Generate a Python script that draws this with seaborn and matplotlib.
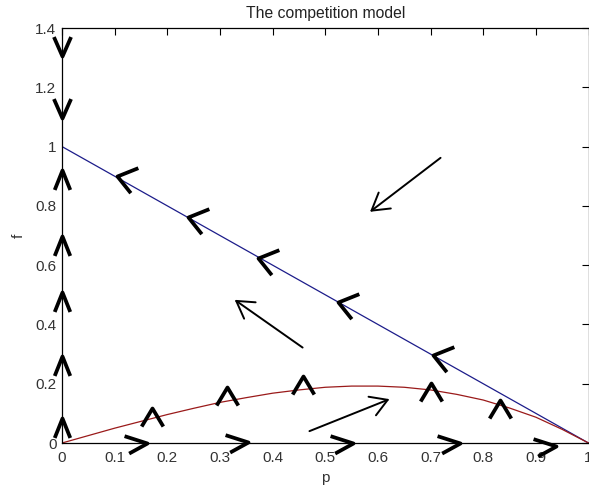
import numpy as np
import pandas as pd
import matplotlib
matplotlib.use("Agg")
import matplotlib.pyplot as plt
from matplotlib.path import Path
import seaborn as sns

# ---- data ----
p_red = [0, 0.05, 0.1, 0.15, 0.2, 0.25, 0.3, 0.35, 0.4, 0.45, 0.5,
         0.55, 0.6, 0.65, 0.7, 0.75, 0.8, 0.85, 0.9, 0.95, 1.0]
f_red = [0, 0.025, 0.05, 0.073, 0.096, 0.117, 0.137, 0.153, 0.168, 0.179, 0.188,
         0.192, 0.192, 0.188, 0.179, 0.164, 0.145, 0.118, 0.087, 0.046, 0]
p_blue = [0, 1]
f_blue = [1, 0]

# chevron (direction marker) tip positions
axis_up_p = [0, 0, 0, 0, 0]
axis_up_f = [0.922, 0.697, 0.511, 0.292, 0.084]
curve_up_p = [0.170, 0.3125, 0.458, 0.7015, 0.831]
curve_up_f = [0.118, 0.189, 0.225, 0.204, 0.144]
down_p = [0, 0]
down_f = [1.304, 1.096]
left_p = [0.104, 0.240, 0.3725, 0.524, 0.705]
left_f = [0.900, 0.762, 0.625, 0.477, 0.298]
right_p = [0.161, 0.354, 0.553, 0.755, 0.939]
right_f = [0.0, 0.003, 0.0, 0.0, -0.01]

# long arrows
arrow_start_p = [0.719, 0.457, 0.470]
arrow_start_f = [0.962, 0.322, 0.040]
arrow_end_p = [0.585, 0.328, 0.622]
arrow_end_f = [0.780, 0.483, 0.148]

xticks = [0, 0.1, 0.2, 0.3, 0.4, 0.5, 0.6, 0.7, 0.8, 0.9, 1]
yticks = [0, 0.2, 0.4, 0.6, 0.8, 1, 1.2, 1.4]

sns.set_theme(style="white")
plt.rcParams['font.family'] = ['Liberation Sans', 'DejaVu Sans']

fig = plt.figure(figsize=(5.89, 4.98), dpi=100)
ax = fig.add_axes([62 / 589, 55 / 498, 526.5 / 589, 415 / 498])

df_red = pd.DataFrame({"p": p_red, "f": f_red})
df_blue = pd.DataFrame({"p": p_blue, "f": f_blue})
sns.lineplot(data=df_blue, x="p", y="f", ax=ax, color="#1c1c8a", lw=0.9, sort=False)
sns.lineplot(data=df_red, x="p", y="f", ax=ax, color="#9a1a1a", lw=0.9, sort=False)


def chev(verts):
    return Path(verts, [Path.MOVETO, Path.LINETO, Path.LINETO])

# tip at origin; marker scaled so max |coord| = 0.5 * markersize
m_up = chev([(-0.2, -0.5), (0, 0), (0.2, -0.5)])
m_up_c = chev([(-0.3, -0.5), (0, 0), (0.3, -0.5)])
m_down = chev([(-0.22, 0.5), (0, 0), (0.22, 0.5)])
m_left = chev([(0.5, 0.2), (0, 0), (0.32, -0.4)])
m_right = chev([(-0.5, 0.16), (0, 0), (-0.4, -0.22)])

kw = dict(linestyle='none', markerfacecolor='none', markeredgecolor='black',
          markeredgewidth=2.7, clip_on=False, zorder=5)
ax.plot(axis_up_p, axis_up_f, marker=m_up, markersize=28, **kw)
ax.plot(curve_up_p, curve_up_f, marker=m_up_c, markersize=26, **kw)
ax.plot(down_p, down_f, marker=m_down, markersize=28, **kw)
ax.plot(left_p, left_f, marker=m_left, markersize=30, **kw)
ax.plot(right_p, right_f, marker=m_right, markersize=33, **kw)

for sp, sf, ep, ef in zip(arrow_start_p, arrow_start_f, arrow_end_p, arrow_end_f):
    ax.annotate('', xy=(ep, ef), xytext=(sp, sf),
                arrowprops=dict(arrowstyle='->,head_length=1.0,head_width=0.6',
                                mutation_scale=12, lw=1.4, color='black',
                                shrinkA=0, shrinkB=0))

ax.set_xlim(0, 1)
ax.set_ylim(0, 1.4)
ax.set_xticks(xticks)
ax.set_yticks(yticks)
ax.set_xticklabels(['%g' % v for v in xticks])
ax.set_yticklabels(['%g' % v for v in yticks])
ax.tick_params(axis='both', which='both', direction='in', length=5, width=0.8,
               top=True, right=True, labelsize=11, colors='black',
               labelcolor='#333333')
ax.tick_params(axis='x', pad=6)
ax.tick_params(axis='y', pad=4)
for s in ax.spines.values():
    s.set_color('black')
    s.set_linewidth(0.9)
    s.set_visible(True)

ax.set_xlabel('p', fontsize=11, color='#333333', labelpad=4)
ax.set_ylabel('f', fontsize=11, color='#333333', labelpad=7)
ax.set_title('The competition model', fontsize=11.3, color='#222222', pad=7)

fig.savefig('out.png', dpi=100)
